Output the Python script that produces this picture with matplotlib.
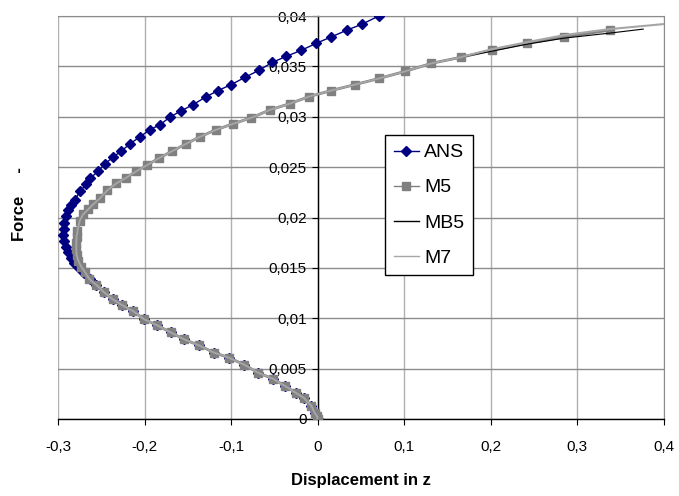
import matplotlib
matplotlib.use("Agg")
import matplotlib.pyplot as plt

plt.rcParams['font.family'] = ['Liberation Sans', 'DejaVu Sans']

# shared lower branch (ANS, M5, MB5, M7 coincide here)
lower_x = [0.0, -0.001, -0.0035, -0.0073, -0.016, -0.0254, -0.038, -0.052, -0.069, -0.085,
           -0.103, -0.120, -0.137, -0.154, -0.170, -0.1855, -0.2005, -0.213, -0.226, -0.237,
           -0.247, -0.2556]
lower_y = [0.0, 0.0003, 0.0006, 0.0013, 0.0021, 0.0026, 0.0033, 0.0040, 0.0046, 0.0054,
           0.0061, 0.0066, 0.0073, 0.0079, 0.0086, 0.0093, 0.0099, 0.0107, 0.0113, 0.0119,
           0.0126, 0.0133]

ans_x = lower_x + [-0.263, -0.270, -0.276, -0.281, -0.2855, -0.289, -0.291, -0.293, -0.294,
                   -0.2935, -0.2925, -0.291, -0.288, -0.2845, -0.2806, -0.2748, -0.2671, -0.2625,
                   -0.2537, -0.246, -0.2364, -0.2267, -0.2171, -0.2055, -0.194, -0.1824, -0.1701,
                   -0.1574, -0.144, -0.1285, -0.1151, -0.0997, -0.0843, -0.0681, -0.0523, -0.0362,
                   -0.0188, -0.0015, 0.015, 0.0338, 0.0516, 0.0704]
ans_y = lower_y + [0.0139, 0.0145, 0.0150, 0.0155, 0.0160, 0.0166, 0.0171, 0.0177, 0.0183,
                   0.0189, 0.0195, 0.0201, 0.0207, 0.0212, 0.0217, 0.0226, 0.0233, 0.0239,
                   0.0246, 0.0253, 0.0260, 0.0266, 0.0273, 0.0280, 0.0287, 0.0292, 0.0300,
                   0.0306, 0.0312, 0.0320, 0.0326, 0.0332, 0.0339, 0.0346, 0.0354, 0.0360,
                   0.0366, 0.0373, 0.0379, 0.0386, 0.0392, 0.0400]

nose_x = [-0.264, -0.269, -0.273, -0.2765, -0.2785, -0.279, -0.279, -0.2785, -0.2775, -0.2748,
          -0.271, -0.2652, -0.2594, -0.2517, -0.2429, -0.2325, -0.222, -0.2094, -0.197, -0.1832,
          -0.1678, -0.1524, -0.1363, -0.1178, -0.0978, -0.0766, -0.0546, -0.0323, -0.010, 0.0155,
          0.0435, 0.0708, 0.1008, 0.1313, 0.1651]
nose_y = [0.0139, 0.0146, 0.0151, 0.0157, 0.0163, 0.0169, 0.0175, 0.0181, 0.0187, 0.0197,
          0.0203, 0.0208, 0.0213, 0.0219, 0.0227, 0.0234, 0.0239, 0.0246, 0.0252, 0.0259,
          0.0266, 0.0273, 0.0280, 0.0287, 0.0293, 0.0299, 0.0307, 0.0313, 0.0320, 0.0326,
          0.0332, 0.0338, 0.0345, 0.0353, 0.0359]

m5_x = lower_x + nose_x + [0.2009, 0.2417, 0.2844, 0.3372]
m5_y = lower_y + nose_y + [0.0366, 0.0373, 0.0379, 0.0386]

mb5_x = lower_x + nose_x + [0.2009, 0.2417, 0.2844, 0.3372, 0.376]
mb5_y = lower_y + nose_y + [0.0365, 0.0372, 0.0378, 0.0383, 0.0387]

m7_x = lower_x + nose_x + [0.2009, 0.2417, 0.2844, 0.3372, 0.40]
m7_y = lower_y + nose_y + [0.0367, 0.0374, 0.0381, 0.0387, 0.0392]

x_ticks = [-0.3, -0.2, -0.1, 0.0, 0.1, 0.2, 0.3, 0.4]
x_labels = ['-0,3', '-0,2', '-0,1', '0', '0,1', '0,2', '0,3', '0,4']
y_ticks = [0.0, 0.005, 0.01, 0.015, 0.02, 0.025, 0.03, 0.035, 0.04]
y_labels = ['0', '0,005', '0,01', '0,015', '0,02', '0,025', '0,03', '0,035', '0,04']

fig = plt.figure(figsize=(6.79, 4.96), dpi=100)
ax = fig.add_axes([58 / 679, 77 / 496, 606 / 679, 403 / 496])

ax.plot(ans_x, ans_y, color='#000080', lw=1, marker='D', ms=5.5, label='ANS', zorder=3)
ax.plot(m5_x, m5_y, color='#808080', lw=2, marker='s', ms=5.5, label='M5', zorder=4)
ax.plot(mb5_x, mb5_y, color='black', lw=0.8, label='MB5', zorder=4)
ax.plot(m7_x, m7_y, color='#a6a6a6', lw=1.5, label='M7', zorder=4)

ax.set_xlim(-0.3, 0.4)
ax.set_ylim(0, 0.04)
ax.set_xticks(x_ticks)
ax.set_xticklabels(x_labels)
ax.set_yticks(y_ticks)
ax.set_yticklabels(y_labels)

ax.xaxis.grid(True, color='#b0b0b0', lw=1)
ax.yaxis.grid(True, color='#8c8c8c', lw=1)
ax.set_axisbelow(True)

ax.spines['left'].set_position(('data', 0))
for s in ['left', 'bottom']:
    ax.spines[s].set_color('black')
    ax.spines[s].set_linewidth(1)
for s in ['top', 'right']:
    ax.spines[s].set_color('#8c8c8c')

ax.tick_params(axis='x', direction='out', length=4, pad=11, labelsize=11)
ax.tick_params(axis='y', direction='out', length=4, pad=4, labelsize=11)

ax.set_xlabel('Displacement in z', fontsize=12, fontweight='bold', labelpad=14)
fig.text(20 / 679, (496 - 241) / 496, 'Force     -', rotation=90, fontsize=12,
         fontweight='bold', ha='center', va='bottom')

leg = ax.legend(loc='upper left', bbox_to_anchor=(0.5396, 0.7047), borderaxespad=0,
                fancybox=False, edgecolor='black', framealpha=1, fontsize=14,
                handlelength=1.3, handletextpad=0.25, labelspacing=0.9, numpoints=1,
                borderpad=0.45)
leg.get_frame().set_linewidth(1)
for line in leg.get_lines():
    line.set_linewidth(1)

fig.savefig('out.png', dpi=100)
